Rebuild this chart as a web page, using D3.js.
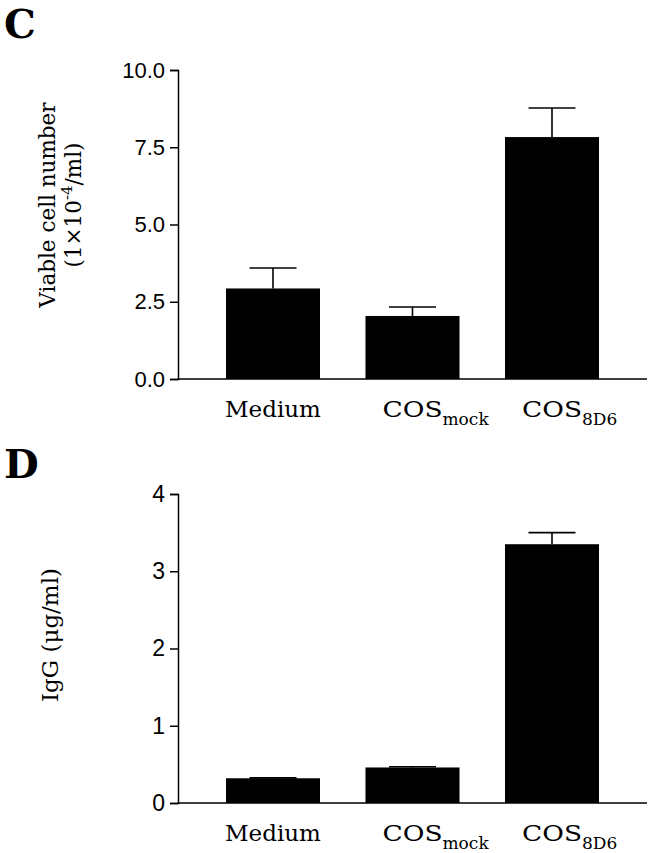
<!DOCTYPE html>
<html>
<head>
<meta charset="utf-8">
<script src="https://cdn.jsdelivr.net/npm/d3@7"></script>
<style>
  html, body { margin: 0; padding: 0; background: #fff; }
  svg { display: block; }
</style>
</head>
<body>
<svg id="chart" width="651" height="853"></svg>
<script>
// ---- data ----
const categories = ["Medium", "COS_mock", "COS_8D6"];
const catMain = ["Medium", "COS", "COS"];
const catSub = ["", "mock", "8D6"];

const cellValues = [2.93, 2.04, 7.83];
const cellErrors = [0.66, 0.29, 0.94];
const cellTicks = [0, 2.5, 5.0, 7.5, 10.0];

const iggValues = [0.32, 0.46, 3.35];
const iggErrors = [0.005, 0.01, 0.15];
const iggTicks = [0, 1, 2, 3, 4];

const svg = d3.select("#chart");
const serif = "'DejaVu Serif', serif";
const sans = "'Liberation Sans', Arial, sans-serif";

function panel(opts) {
  const g = svg.append("g");
  const x = d3.scaleBand().domain(categories).range([opts.x0, opts.x1])
    .paddingInner(0.326).paddingOuter(0.344);
  const y = d3.scaleLinear().domain(opts.domain).range([opts.yBottom, opts.yTop]);

  // bars
  g.selectAll("rect.bar").data(opts.values).join("rect")
    .attr("class", "bar")
    .attr("x", (d, i) => x(categories[i]))
    .attr("width", x.bandwidth())
    .attr("y", d => y(d))
    .attr("height", d => y(0) - y(d))
    .attr("fill", "#000");

  // error bars
  const capW = x.bandwidth() * 0.5;
  opts.values.forEach((v, i) => {
    const cx = x(categories[i]) + x.bandwidth() / 2;
    const top = y(v + opts.errors[i]);
    g.append("line").attr("x1", cx).attr("x2", cx).attr("y1", y(v)).attr("y2", top)
      .attr("stroke", "#000").attr("stroke-width", 1.6);
    g.append("line").attr("x1", cx - capW / 2).attr("x2", cx + capW / 2)
      .attr("y1", top).attr("y2", top)
      .attr("stroke", "#000").attr("stroke-width", 1.6);
  });

  // y axis
  const yAxis = d3.axisLeft(y).tickValues(opts.ticks).tickSize(8).tickPadding(5)
    .tickFormat(opts.fmt);
  const ya = g.append("g").attr("transform", `translate(${opts.x0},0)`).call(yAxis);
  ya.select(".domain").attr("stroke-width", 1.5);
  ya.selectAll(".tick line").attr("stroke-width", 1.5);
  ya.selectAll(".tick text").attr("font-family", sans).attr("font-size", opts.tickSize)
    .attr("fill", "#000");

  // x axis baseline
  g.append("line").attr("x1", opts.x0).attr("x2", opts.x1)
    .attr("y1", y(0)).attr("y2", y(0)).attr("stroke", "#000").attr("stroke-width", 1.5);

  // category labels: main word centred on the bar, subscript hanging to the right
  categories.forEach((c, i) => {
    const cx = x(c) + x.bandwidth() / 2;
    const t = g.append("text").attr("y", y(0) + 38)
      .attr("text-anchor", "start").attr("font-family", serif)
      .attr("font-size", 23).attr("fill", "#000");
    const main = t.append("tspan").text(catMain[i]);
    if (catSub[i]) {
      main.attr("textLength", 60).attr("lengthAdjust", "spacingAndGlyphs");
      t.append("tspan").attr("dy", 8).attr("font-size", 17).text(catSub[i]);
    }
    const w = catSub[i] ? 60 : main.node().getComputedTextLength();
    t.attr("x", cx - w / 2);
  });

  // panel letter
  g.append("text").attr("x", 4).attr("y", opts.letterY)
    .attr("font-family", serif).attr("font-weight", "bold").attr("font-size", 40)
    .attr("fill", "#000").text(opts.letter);

  return { g, x, y };
}

// Panel C
const pc = panel({
  x0: 178, x1: 647, yTop: 70, yBottom: 379, domain: [0, 10],
  values: cellValues, errors: cellErrors, ticks: cellTicks,
  fmt: d3.format(".1f"), tickSize: 22, letter: "C", letterY: 38
});
// y title C
const tc = svg.append("text").attr("transform", "translate(55,205) rotate(-90)")
  .attr("text-anchor", "middle").attr("font-family", serif).attr("font-size", 21.5)
  .attr("fill", "#000");
tc.append("tspan").attr("x", 0).attr("y", 0).text("Viable cell number");
const t2 = tc.append("tspan").attr("x", 0).attr("y", 26);
t2.text("(1×10");
tc.append("tspan").attr("dy", -9).attr("font-size", 15).text("-4");
tc.append("tspan").attr("dy", 9).text("/ml)");

// Panel D
const pd = panel({
  x0: 178, x1: 647, yTop: 494, yBottom: 803, domain: [0, 4],
  values: iggValues, errors: iggErrors, ticks: iggTicks,
  fmt: d3.format("d"), tickSize: 23, letter: "D", letterY: 478
});
svg.append("text").attr("transform", "translate(58,635) rotate(-90)")
  .attr("text-anchor", "middle").attr("font-family", serif).attr("font-size", 23)
  .attr("fill", "#000").text("IgG (μg/ml)");
</script>
</body>
</html>
